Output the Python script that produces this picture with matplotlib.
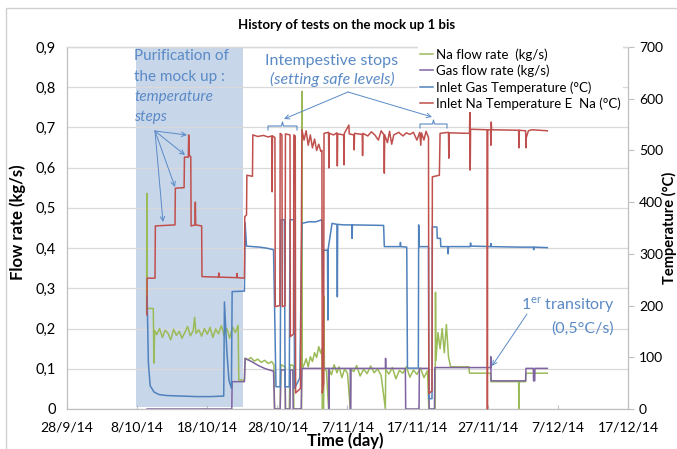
import matplotlib
matplotlib.use("Agg")
import matplotlib.pyplot as plt
import pandas as pd
from matplotlib.ticker import FuncFormatter, MultipleLocator
from matplotlib.patches import Rectangle

plt.rcParams['font.family'] = ['Lato', 'DejaVu Sans']

# time axis: days counted from 28/9/14
start = pd.Timestamp('2014-09-28')
tick_days = [0, 10, 20, 30, 40, 50, 60, 70, 80]

# purification period (shaded)
purif_days = [9.85, 25.1]

# Na flow rate (kg/s)
na_flow_day = [11.35, 11.38, 11.42, 12.3, 12.4, 12.5, 12.8, 13.2, 13.6, 14.0, 14.4, 14.8, 15.2, 15.6,
               16.0, 16.4, 16.8, 17.2, 17.6, 18.0, 18.2, 18.4, 18.8, 19.2, 19.6, 20.0, 20.4, 20.8,
               21.2, 21.6, 22.0, 22.4, 22.8, 23.2, 23.6, 24.0, 24.4, 24.5, 25.3, 25.4, 25.8, 26.2,
               26.7, 27.2, 27.7, 28.2, 28.7, 29.2, 29.5, 29.6, 30.4, 30.5, 31.1, 31.15, 31.7, 31.8,
               32.3, 32.35, 33.45, 33.5, 33.55, 33.8, 34.1, 34.4, 34.7, 35.0, 35.3, 35.6, 35.9, 36.2,
               36.35, 36.4, 36.6, 36.65, 36.7, 37.0, 37.3, 37.35, 37.7, 38.1, 38.5, 38.8, 39.2, 39.6,
               40.0, 40.4, 40.45, 40.9, 41.3, 41.8, 42.3, 42.8, 43.3, 43.8, 44.3, 44.8, 45.4, 45.45,
               45.9, 46.4, 46.9, 47.4, 47.9, 48.4, 48.9, 49.4, 49.9, 50.4, 50.9, 51.4, 51.6, 52.5,
               52.55, 52.6, 52.9, 53.2, 53.5, 53.8, 54.1, 54.4, 54.7, 57.3, 57.4, 60.4, 60.45, 64.4,
               64.45, 64.5, 65.4, 65.45, 68.5]
na_flow = [0.24, 0.536, 0.25, 0.25, 0.114, 0.195, 0.185, 0.200, 0.178, 0.196, 0.188, 0.172, 0.198, 0.183,
           0.193, 0.176, 0.190, 0.205, 0.182, 0.195, 0.228, 0.188, 0.197, 0.181, 0.200, 0.186, 0.203, 0.178,
           0.199, 0.187, 0.207, 0.183, 0.200, 0.176, 0.204, 0.190, 0.208, 0.072, 0.072, 0.126, 0.122, 0.128,
           0.119, 0.124, 0.116, 0.121, 0.113, 0.118, 0.110, 0.0, 0.0, 0.11, 0.105, 0.0, 0.0, 0.11,
           0.108, 0.0, 0.0, 0.79, 0.10, 0.11, 0.125, 0.105, 0.13, 0.118, 0.14, 0.128, 0.155, 0.138,
           0.15, 0.0, 0.0, 0.28, 0.10, 0.095, 0.0, 0.10, 0.085, 0.11, 0.09, 0.105, 0.078, 0.10,
           0.088, 0.0, 0.10, 0.093, 0.108, 0.082, 0.099, 0.088, 0.107, 0.090, 0.100, 0.083, 0.0, 0.098,
           0.087, 0.103, 0.075, 0.096, 0.089, 0.105, 0.079, 0.097, 0.086, 0.102, 0.078, 0.095, 0.0, 0.0,
           0.29, 0.12, 0.19, 0.15, 0.20, 0.14, 0.21, 0.13, 0.105, 0.105, 0.089, 0.089, 0.068, 0.068,
           0.0, 0.068, 0.068, 0.089, 0.089]

# Gas flow rate (kg/s)
gas_flow_day = [11.43, 23.5, 23.55, 25.3, 25.4, 26.3, 27.3, 28.3, 29.45, 29.6, 30.4, 30.5, 31.1, 31.15,
                31.8, 31.85, 32.2, 32.25, 33.4, 33.5, 37.3, 37.33, 37.38, 40.4, 40.43, 40.48, 45.4, 45.43,
                45.48, 48.25, 48.3, 50.2, 50.25, 51.6, 51.65, 52.4, 52.45, 60.4, 60.43, 60.48, 65.4, 65.45,
                66.5, 66.53, 66.7, 66.73, 68.5]
gas_flow = [0.0, 0.0, 0.068, 0.068, 0.126, 0.118, 0.108, 0.100, 0.094, 0.0, 0.0, 0.097, 0.097, 0.0,
            0.0, 0.097, 0.097, 0.0, 0.0, 0.101, 0.101, 0.0, 0.101, 0.101, 0.0, 0.101, 0.101, 0.126,
            0.101, 0.101, 0.0, 0.0, 0.101, 0.101, 0.0, 0.0, 0.103, 0.103, 0.13, 0.070, 0.070, 0.101,
            0.101, 0.070, 0.070, 0.101, 0.101]

# Inlet gas temperature (°C)
gas_temp_day = [11.43, 11.6, 11.86, 12.4, 13.1, 14.2, 16.3, 18.4, 20.4, 22.35, 22.45, 22.8, 23.1, 23.45,
                23.55, 25.3, 25.4, 25.6, 26.5, 27.5, 28.5, 29.45, 29.6, 29.8, 30.4, 30.5, 31.0, 31.1,
                31.7, 31.8, 32.35, 32.45, 33.2, 33.5, 34.5, 35.5, 36.35, 36.4, 36.5, 36.55, 37.15, 37.2,
                37.25, 37.8, 38.5, 38.55, 38.6, 39.5, 40.6, 40.65, 40.7, 45.15, 45.25, 47.5, 47.55, 47.6,
                48.45, 48.55, 50.1, 50.15, 50.2, 51.55, 51.6, 52.05, 52.1, 52.75, 52.8, 53.25, 53.3, 54.3,
                54.35, 54.4, 57.5, 57.55, 57.6, 60.4, 60.45, 60.5, 64.5, 66.5, 66.55, 66.6, 68.5]
gas_temp = [217, 90, 45, 33, 28, 26, 25, 24, 24, 25, 207, 110, 55, 40,
            227, 228, 360, 315, 314, 313, 311, 308, 198, 43, 43, 366, 366, 43,
            43, 366, 366, 40, 60, 359, 362, 362, 366, 307, 224, 307, 307, 172,
            310, 359, 357, 217, 357, 356, 356, 330, 356, 355, 314, 314, 322, 314,
            313, 79, 79, 356, 314, 314, 20, 20, 352, 352, 330, 330, 314, 314,
            300, 314, 314, 321, 315, 314, 320, 314, 313, 313, 308, 313, 312]

# Inlet Na temperature (°C)
na_temp_day = [11.39, 11.43, 12.55, 12.6, 15.4, 15.45, 16.7, 16.75, 17.3, 17.35, 17.45, 17.65, 17.7, 18.25,
               18.3, 18.35, 19.2, 19.25, 21.6, 21.65, 21.7, 24.2, 24.25, 24.3, 25.3, 25.35, 25.6, 25.65,
               26.45, 26.5, 27.2, 28.0, 28.7, 29.2, 29.25, 29.3, 29.65, 29.7, 30.35, 30.4, 30.65, 30.7,
               31.1, 31.15, 31.8, 31.85, 32.3, 32.35, 32.55, 32.6, 33.3, 33.5, 33.8, 34.1, 34.4, 34.7,
               35.0, 35.3, 35.6, 35.9, 36.2, 36.35, 36.4, 36.6, 36.65, 37.3, 37.35, 37.4, 38.0, 38.5,
               38.55, 38.6, 39.45, 39.5, 39.55, 40.2, 40.25, 40.9, 40.95, 41.0, 42.1, 42.15, 42.2, 42.9,
               43.4, 43.9, 44.4, 44.8, 45.2, 45.25, 45.3, 45.7, 46.0, 46.3, 46.6, 47.3, 47.9, 48.4,
               48.9, 49.4, 49.9, 50.3, 50.45, 50.55, 50.9, 51.2, 51.55, 51.6, 52.05, 52.1, 53.1, 53.2,
               54.4, 54.45, 54.5, 57.4, 57.45, 57.5, 57.55, 59.9, 59.95, 60.0, 60.4, 60.45, 60.5, 60.55,
               64.4, 64.45, 64.5, 65.4, 65.45, 65.5, 65.8, 66.3, 68.5]
na_temp = [182, 253, 253, 354, 356, 427, 428, 487, 487, 530, 490, 488, 354, 356,
           400, 356, 354, 256, 255, 263, 255, 254, 262, 254, 253, 372, 375, 452,
           450, 530, 527, 529, 526, 528, 420, 528, 525, 198, 200, 533, 530, 198,
           200, 532, 530, 140, 145, 530, 528, 31, 40, 540, 520, 538, 510, 530,
           505, 522, 500, 512, 498, 500, 31, 50, 533, 535, 466, 533, 530, 534,
           470, 532, 530, 472, 533, 549, 532, 530, 501, 533, 531, 490, 533, 528,
           536, 530, 520, 538, 530, 456, 530, 515, 537, 512, 530, 535, 528, 534,
           531, 535, 520, 535, 510, 534, 520, 537, 525, 30, 35, 449, 452, 533,
           535, 485, 534, 533, 578, 462, 541, 540, 0, 540, 540, 510, 555, 540,
           539, 505, 539, 538, 505, 525, 538, 540, 538]

legend_labels = ['Na flow rate  (kg/s)', 'Gas flow rate (kg/s)',
                 'Inlet Gas Temperature (°C)', 'Inlet Na Temperature E  Na (°C)']


def to_dates(days):
    return start + pd.to_timedelta(days, unit='D')


W, H = 677, 449
fig = plt.figure(figsize=(W / 100, H / 100), dpi=100)
ax = fig.add_axes([67 / W, 1 - 409 / H, (628 - 67) / W, (409 - 47) / H])
ax2 = ax.twinx()

blue_txt = '#5a8ac6'
grid_c = '#d9d9d9'
axis_c = '#bfbfbf'

# shaded purification area
p0, p1 = to_dates(purif_days)
ax.axvspan(p0, p1, ymin=0.005, ymax=1.0, color='#c8d6ea', lw=0, zorder=0)

l1, = ax.plot(to_dates(na_flow_day), na_flow, color='#9bbb59', lw=1.1, zorder=2, clip_on=False)
l2, = ax.plot(to_dates(gas_flow_day), gas_flow, color='#8064a2', lw=1.1, zorder=3, clip_on=False)
l3, = ax2.plot(to_dates(gas_temp_day), gas_temp, color='#4f81bd', lw=1.1, zorder=2, clip_on=False)
l4, = ax2.plot(to_dates(na_temp_day), na_temp, color='#c0504d', lw=1.1, zorder=3, clip_on=False)

ax.set_xlim(to_dates([0, 80]))
ax.set_ylim(0, 0.9)
ax2.set_ylim(0, 700)

ax.set_xticks(to_dates(tick_days))
ax.set_xticklabels([f"{d.day}/{d.month}/{d:%y}" for d in to_dates(tick_days)])
ax.yaxis.set_major_locator(MultipleLocator(0.1))
ax.yaxis.set_major_formatter(FuncFormatter(lambda v, p: '0' if abs(v) < 1e-9 else f"{v:.1f}".replace('.', ',')))
ax2.yaxis.set_major_locator(MultipleLocator(100))

ax.yaxis.grid(True, color=grid_c, lw=0.9)
ax.set_axisbelow(True)
ax.tick_params(axis='y', length=0, pad=8, labelsize=10.5)
ax.tick_params(axis='x', direction='in', length=3, color=axis_c, pad=9, labelsize=10)
ax2.tick_params(axis='y', length=4, color=axis_c, pad=4, labelsize=10)
for a in (ax, ax2):
    for s in ('left', 'right', 'bottom'):
        a.spines[s].set_color(axis_c)
        a.spines[s].set_linewidth(0.8)
    a.spines['top'].set_color(grid_c)
    a.spines['top'].set_linewidth(0.9)
ax2.patch.set_visible(False)

fig.text(347 / W, 1 - 25 / H, 'History of tests on the mock up 1 bis',
         ha='center', va='center', fontsize=9.5, fontweight='bold')
fig.text(18 / W, 1 - 222 / H, 'Flow rate (kg/s)', rotation=90,
         ha='center', va='center', fontsize=12, fontweight='bold')
fig.text(669.5 / W, 1 - 228 / H, 'Temperature (°C)', rotation=90,
         ha='center', va='center', fontsize=10.5, fontweight='bold')
fig.text(345 / W, 1 - 441 / H, 'Time (day)', ha='center', va='center',
         fontsize=12, fontweight='bold')

leg = ax2.legend([l1, l2, l3, l4], legend_labels, loc='upper left',
                 bbox_to_anchor=(418 / W, 1 - 46 / H), bbox_transform=fig.transFigure,
                 fontsize=9.5, frameon=True, framealpha=1, facecolor='white', edgecolor='none',
                 fancybox=False, borderpad=0.15, borderaxespad=0, handlelength=1.0,
                 handletextpad=0.2, labelspacing=0.3)


def px(x, y):
    return (x, H - y)


# annotation texts
for i, (s, st) in enumerate([('Purification of', 'normal'), ('the mock up :', 'normal'),
                             ('temperature', 'italic'), ('steps', 'italic')]):
    fig.text(134 / W, 1 - (60.5 + 20.3 * i) / H, s, ha='left', va='baseline',
             fontsize=11, style=st, color=blue_txt)
fig.text(332 / W, 1 - 65 / H, 'Intempestive stops', ha='center', va='baseline',
         fontsize=11.5, color=blue_txt)
fig.text(332 / W, 1 - 84 / H, '(setting safe levels)', ha='center', va='baseline',
         fontsize=11.5, style='italic', color=blue_txt)
fig.text(615 / W, 1 - 310 / H, r'1$^{\mathregular{er}}$ transitory', ha='right', va='baseline',
         fontsize=11.5, color=blue_txt)
fig.text(614 / W, 1 - 333 / H, '(0,5°C/s)', ha='right', va='baseline',
         fontsize=11.5, color=blue_txt)

arrow = dict(arrowstyle='->', color=blue_txt, lw=0.7, shrinkA=0, shrinkB=0, mutation_scale=8)
for tip in [(163, 222), (175, 187), (185, 155), (187, 135)]:
    ax.annotate('', xy=px(*tip), xytext=px(155, 131), xycoords='figure pixels',
                textcoords='figure pixels', arrowprops=arrow)
for tip in [(284, 119), (432, 117)]:
    ax.annotate('', xy=px(*tip), xytext=px(348, 92), xycoords='figure pixels',
                textcoords='figure pixels', arrowprops=arrow)
ax.annotate('', xy=px(492, 366), xytext=px(527, 314), xycoords='figure pixels',
            textcoords='figure pixels', arrowprops=arrow)

# braces over the stop periods
for x0, x1, yb in [(268, 297, 126), (420, 447, 124)]:
    xm = (x0 + x1) / 2
    bx = [x0, x0, xm - 1, xm, xm + 1, x1, x1]
    by = [yb + 4, yb, yb, yb - 4, yb, yb, yb + 4]
    fig.add_artist(plt.Line2D([v / W for v in bx], [1 - v / H for v in by],
                              transform=fig.transFigure, color=blue_txt, lw=0.8))

# outer chart border
fig.add_artist(Rectangle((6 / W, -0.1), 1.2, 1.1 - 8 / H, transform=fig.transFigure,
                         fill=False, edgecolor='#d0d0d0', lw=1))

fig.savefig('out.png', dpi=100)
